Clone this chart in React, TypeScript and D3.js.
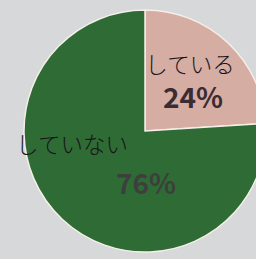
import React, { useRef, useEffect } from 'react';
import * as d3 from 'd3';

const labels = ['している', 'していない'];
const values = [24, 76];
const colors = ['#d6ada3', '#2f6b35'];

const App = () => {
  const ref = useRef<SVGSVGElement>(null);

  useEffect(() => {
    const width = 256;
    const height = 259;
    const cx = 145;
    const cy = 131;
    const radius = 121;

    const svg = d3.select(ref.current);
    svg.selectAll('*').remove();

    svg.append('rect')
      .attr('width', width)
      .attr('height', height)
      .attr('fill', '#d6d8d9');

    const g = svg.append('g').attr('transform', `translate(${cx}, ${cy})`);

    const pie = d3.pie<number>().sort(null).value((d) => d);
    const arc = d3.arc<d3.PieArcDatum<number>>().innerRadius(0).outerRadius(radius);
    const arcs = pie(values);

    g.selectAll('path')
      .data(arcs)
      .enter().append('path')
      .attr('d', arc)
      .attr('fill', (d, i) => colors[i])
      .attr('stroke', '#f4efe8')
      .attr('stroke-width', 1.5);

    // label positions relative to center
    const labelPos = [
      { name: [45, -68], pct: [48, -35] },
      { name: [-73, 12], pct: [1, 51] },
    ];
    const pctColors = ['#3b2b32', '#3d3f3c'];

    labelPos.forEach((p, i) => {
      g.append('text')
        .text(labels[i])
        .attr('x', p.name[0])
        .attr('y', p.name[1])
        .attr('text-anchor', 'middle')
        .attr('dominant-baseline', 'central')
        .style('font-family', '"Noto Sans CJK JP"')
        .style('font-weight', 300)
        .style('font-size', '22.5px')
        .attr('fill', '#1a1618');
      g.append('text')
        .text(`${values[i]}%`)
        .attr('x', p.pct[0])
        .attr('y', p.pct[1])
        .attr('text-anchor', 'middle')
        .attr('dominant-baseline', 'central')
        .style('font-family', '"Noto Sans CJK JP"')
        .style('font-weight', 700)
        .style('font-size', '28px')
        .attr('fill', pctColors[i]);
    });
  }, []);

  return (
    <svg ref={ref} width={256} height={259}
      style={{ position: 'absolute', left: 0, top: 0, display: 'block' }} />
  );
};

export default App;
